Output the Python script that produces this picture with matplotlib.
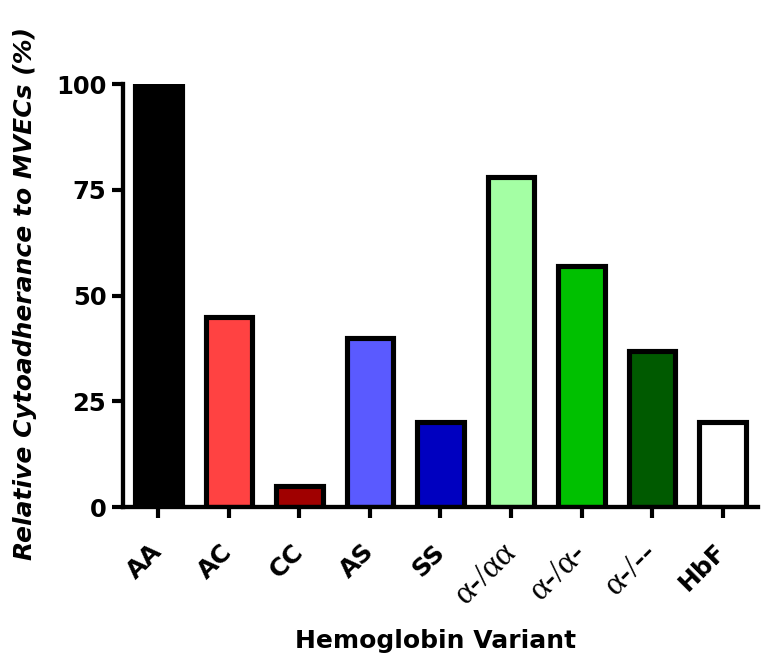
import matplotlib
matplotlib.use('Agg')
import matplotlib.pyplot as plt

variants = ['AA', 'AC', 'CC', 'AS', 'SS', 'α-/αα', 'α-/α-', 'α-/--', 'HbF']
adherence = [100, 45, 5, 40, 20, 78, 57, 37, 20]
colors = ['#000000', '#FF4242', '#A00000', '#5A5AFF', '#0000C0',
          '#A4FFA4', '#00C000', '#005A00', '#FFFFFF']
greek = [False, False, False, False, False, True, True, True, False]

plt.rcParams['font.family'] = ['DejaVu Sans']

fig = plt.figure(figsize=(7.74, 6.68), dpi=100)
ax = fig.add_axes([0.1589, 0.241, 0.8204, 0.633])

x = list(range(len(variants)))
ax.bar(x, adherence, width=0.66, color=colors, edgecolor='black',
       linewidth=3.7, zorder=3)

ax.set_xlim(-0.5, 8.5)
ax.set_ylim(0, 100)
ax.set_yticks([0, 25, 50, 75, 100])
ax.set_xticks(x)
ax.set_xticklabels(variants)

for s in ['top', 'right']:
    ax.spines[s].set_visible(False)
for s in ['left', 'bottom']:
    ax.spines[s].set_linewidth(3.1)
    ax.spines[s].set_zorder(4)

ax.tick_params(axis='both', width=3, length=8, direction='out')
ax.tick_params(axis='y', labelsize=17.5, pad=4)
ax.tick_params(axis='x', pad=21.5)
for lab in ax.get_yticklabels():
    lab.set_fontweight('bold')

for lab, g in zip(ax.get_xticklabels(), greek):
    lab.set_rotation(45)
    lab.set_ha('right')
    lab.set_va('center')
    lab.set_rotation_mode('anchor')
    if g:
        lab.set_family(['Liberation Serif', 'DejaVu Serif'])
        lab.set_fontsize(24)
    else:
        lab.set_fontweight('bold')
        lab.set_fontsize(18)

fig.text(0.032, 0.56, 'Relative Cytoadherance to MVECs (%)', fontsize=18,
         fontweight='bold', fontstyle='italic', rotation=90,
         ha='center', va='center')
fig.text(0.563, 0.030, 'Hemoglobin Variant', fontsize=18, fontweight='bold',
         ha='center', va='baseline')

fig.savefig('out.png', dpi=100)
